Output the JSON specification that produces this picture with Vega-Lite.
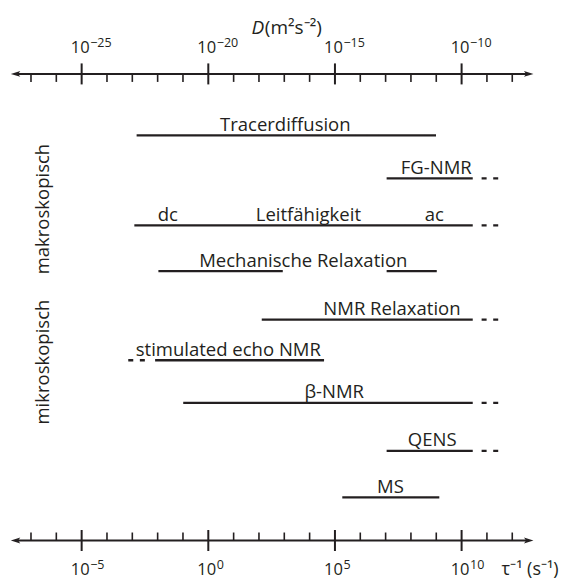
{
  "$schema": "https://vega.github.io/schema/vega-lite/v6.json",
  "width": 568,
  "height": 579,
  "padding": 0,
  "autosize": {"type": "fit", "contains": "padding"},
  "background": "white",
  "config": {"view": {"stroke": null}, "text": {"font": "Open Sans", "color": "#231f20"}},
  "datasets": {
    "segments": [
      {"method": "Tracerdiffusion", "x": -2.83, "x2": 8.99, "row": 1, "kind": "solid"},
      {"method": "FG-NMR", "x": 7.04, "x2": 10.44, "row": 1.95, "kind": "solid"},
      {"method": "FG-NMR", "x": 10.79, "x2": 11.45, "row": 1.95, "kind": "dashed"},
      {"method": "Leitfähigkeit", "x": -2.92, "x2": 10.44, "row": 2.99, "kind": "solid"},
      {"method": "Leitfähigkeit", "x": 10.79, "x2": 11.45, "row": 2.99, "kind": "dashed"},
      {"method": "Mechanische Relaxation", "x": -1.97, "x2": 2.94, "row": 4.0, "kind": "solid"},
      {"method": "Mechanische Relaxation", "x": 7.04, "x2": 9.02, "row": 4.0, "kind": "solid"},
      {"method": "NMR Relaxation", "x": 2.11, "x2": 10.44, "row": 5.07, "kind": "solid"},
      {"method": "NMR Relaxation", "x": 10.79, "x2": 11.45, "row": 5.07, "kind": "dashed"},
      {"method": "stimulated echo NMR", "x": -3.16, "x2": -2.5, "row": 5.97, "kind": "dashed"},
      {"method": "stimulated echo NMR", "x": -2.1, "x2": 4.57, "row": 5.97, "kind": "solid"},
      {"method": "β-NMR", "x": -0.99, "x2": 10.44, "row": 6.91, "kind": "solid"},
      {"method": "β-NMR", "x": 10.79, "x2": 11.45, "row": 6.91, "kind": "dashed"},
      {"method": "QENS", "x": 7.04, "x2": 10.44, "row": 7.97, "kind": "solid"},
      {"method": "QENS", "x": 10.79, "x2": 11.45, "row": 7.97, "kind": "dashed"},
      {"method": "MS", "x": 5.29, "x2": 9.12, "row": 9.0, "kind": "solid"}
    ],
    "labels": [
      {"text": "Tracerdiffusion", "x": 3.04, "row": 1},
      {"text": "FG-NMR", "x": 9.0, "row": 1.95},
      {"text": "dc", "x": -1.6, "row": 2.99},
      {"text": "Leitfähigkeit", "x": 3.95, "row": 2.99},
      {"text": "ac", "x": 8.92, "row": 2.99},
      {"text": "Mechanische Relaxation", "x": 3.75, "row": 4.0},
      {"text": "NMR Relaxation", "x": 7.25, "row": 5.07},
      {"text": "stimulated echo NMR", "x": 0.79, "row": 5.97},
      {"text": "β-NMR", "x": 4.97, "row": 6.91},
      {"text": "QENS", "x": 8.84, "row": 7.97},
      {"text": "MS", "x": 7.19, "row": 9.0}
    ],
    "groups": [
      {"text": "makroskopisch", "x": -6.53, "row": 2.63},
      {"text": "mikroskopisch", "x": -6.53, "row": 6.01}
    ],
    "axes": [
      {"axis": "top", "x": -7.6, "x2": 12.64, "row": -0.356},
      {"axis": "bottom", "x": -7.6, "x2": 12.64, "row": 9.952}
    ],
    "arrows": [
      {"axis": "top", "side": "left", "x": -7.61, "row": -0.356},
      {"axis": "top", "side": "right", "x": 12.65, "row": -0.356},
      {"axis": "bottom", "side": "left", "x": -7.61, "row": 9.952},
      {"axis": "bottom", "side": "right", "x": 12.65, "row": 9.952}
    ],
    "major": [
      {"axis": "top", "x": -5, "row": -0.356, "base": "10", "exp": "−25"},
      {"axis": "top", "x": 0, "row": -0.356, "base": "10", "exp": "−20"},
      {"axis": "top", "x": 5, "row": -0.356, "base": "10", "exp": "−15"},
      {"axis": "top", "x": 10, "row": -0.356, "base": "10", "exp": "−10"},
      {"axis": "bottom", "x": -5, "row": 9.952, "base": "10", "exp": "−5"},
      {"axis": "bottom", "x": 0, "row": 9.952, "base": "10", "exp": "0"},
      {"axis": "bottom", "x": 5, "row": 9.952, "base": "10", "exp": "5"},
      {"axis": "bottom", "x": 10, "row": 9.952, "base": "10", "exp": "10"}
    ],
    "minor": [
      {"axis": "top", "x": -7, "row": -0.356}, {"axis": "top", "x": -6, "row": -0.356},
      {"axis": "top", "x": -4, "row": -0.356}, {"axis": "top", "x": -3, "row": -0.356},
      {"axis": "top", "x": -2, "row": -0.356}, {"axis": "top", "x": -1, "row": -0.356},
      {"axis": "top", "x": 1, "row": -0.356}, {"axis": "top", "x": 2, "row": -0.356},
      {"axis": "top", "x": 3, "row": -0.356}, {"axis": "top", "x": 4, "row": -0.356},
      {"axis": "top", "x": 6, "row": -0.356}, {"axis": "top", "x": 7, "row": -0.356},
      {"axis": "top", "x": 8, "row": -0.356}, {"axis": "top", "x": 9, "row": -0.356},
      {"axis": "top", "x": 11, "row": -0.356}, {"axis": "top", "x": 12, "row": -0.356},
      {"axis": "bottom", "x": -7, "row": 9.952}, {"axis": "bottom", "x": -6, "row": 9.952},
      {"axis": "bottom", "x": -4, "row": 9.952}, {"axis": "bottom", "x": -3, "row": 9.952},
      {"axis": "bottom", "x": -2, "row": 9.952}, {"axis": "bottom", "x": -1, "row": 9.952},
      {"axis": "bottom", "x": 1, "row": 9.952}, {"axis": "bottom", "x": 2, "row": 9.952},
      {"axis": "bottom", "x": 3, "row": 9.952}, {"axis": "bottom", "x": 4, "row": 9.952},
      {"axis": "bottom", "x": 6, "row": 9.952}, {"axis": "bottom", "x": 7, "row": 9.952},
      {"axis": "bottom", "x": 8, "row": 9.952}, {"axis": "bottom", "x": 9, "row": 9.952},
      {"axis": "bottom", "x": 11, "row": 9.952}, {"axis": "bottom", "x": 12, "row": 9.952}
    ],
    "titles": [
      {"axis": "top", "part": "sym", "text": "D", "x": 1.71, "row": -0.356},
      {"axis": "top", "part": "unit", "text": "(m²s⁻²)", "x": 2.23, "row": -0.356},
      {"axis": "bottom", "part": "unit", "text": "τ⁻¹ (s⁻¹)", "x": 11.58, "row": 9.952}
    ]
  },
  "encoding": {
    "x": {"field": "x", "type": "quantitative", "scale": {"domain": [-8.2235, 14.2006], "nice": false, "zero": false}, "axis": null},
    "y": {"field": "row", "type": "quantitative", "scale": {"domain": [-1.989, 10.736], "nice": false, "zero": false, "reverse": true}, "axis": null}
  },
  "layer": [
    {
      "data": {"name": "axes"},
      "mark": {"type": "rule", "color": "#231f20", "strokeWidth": 2},
      "encoding": {"x2": {"field": "x2"}}
    },
    {
      "data": {"name": "arrows"},
      "mark": {"type": "point", "filled": true, "opacity": 1, "size": 90, "fill": "#231f20", "strokeWidth": 0},
      "encoding": {
        "shape": {"field": "side", "type": "nominal", "scale": {"domain": ["left", "right"], "range": ["M-1,0L1,-0.62L0.55,0L1,0.62Z", "M1,0L-1,-0.62L-0.55,0L-1,0.62Z"]}, "legend": null}
      }
    },
    {
      "data": {"name": "major"},
      "mark": {"type": "point", "shape": "M0,-1L0,1", "filled": false, "opacity": 1, "size": 441, "stroke": "#231f20", "strokeWidth": 2}
    },
    {
      "data": {"name": "minor"},
      "transform": [{"filter": "datum.axis === 'top'"}],
      "mark": {"type": "point", "shape": "M0,0L0,1", "filled": false, "opacity": 1, "size": 256, "stroke": "#231f20", "strokeWidth": 1.6}
    },
    {
      "data": {"name": "minor"},
      "transform": [{"filter": "datum.axis === 'bottom'"}],
      "mark": {"type": "point", "shape": "M0,-1L0,0", "filled": false, "opacity": 1, "size": 256, "stroke": "#231f20", "strokeWidth": 1.6}
    },
    {
      "data": {"name": "segments"},
      "mark": {"type": "rule", "color": "#231f20", "strokeWidth": 2.3},
      "encoding": {
        "x2": {"field": "x2"},
        "strokeDash": {"field": "kind", "type": "nominal", "scale": {"domain": ["solid", "dashed"], "range": [[1, 0], [5, 6.6]]}, "legend": null}
      }
    },
    {
      "data": {"name": "labels"},
      "mark": {"type": "text", "fontSize": 18.5, "align": "center", "baseline": "alphabetic", "dy": -4.5},
      "encoding": {"text": {"field": "text"}}
    },
    {
      "data": {"name": "groups"},
      "mark": {"type": "text", "fontSize": 18.5, "align": "center", "baseline": "middle", "angle": 270},
      "encoding": {"text": {"field": "text"}}
    },
    {
      "data": {"name": "major"},
      "transform": [{"filter": "datum.axis === 'top'"}],
      "mark": {"type": "text", "fontSize": 16.5, "align": "center", "baseline": "alphabetic", "dx": -1.5, "dy": -21},
      "encoding": {"text": {"field": "base"}}
    },
    {
      "data": {"name": "major"},
      "transform": [{"filter": "datum.axis === 'top'"}],
      "mark": {"type": "text", "fontSize": 12.5, "align": "left", "baseline": "alphabetic", "dx": 8.5, "dy": -26.5},
      "encoding": {"text": {"field": "exp"}}
    },
    {
      "data": {"name": "major"},
      "transform": [{"filter": "datum.axis === 'bottom'"}],
      "mark": {"type": "text", "fontSize": 16.5, "align": "center", "baseline": "alphabetic", "dx": -1.5, "dy": 34},
      "encoding": {"text": {"field": "base"}}
    },
    {
      "data": {"name": "major"},
      "transform": [{"filter": "datum.axis === 'bottom'"}],
      "mark": {"type": "text", "fontSize": 12.5, "align": "left", "baseline": "alphabetic", "dx": 8.5, "dy": 28.5},
      "encoding": {"text": {"field": "exp"}}
    },
    {
      "data": {"name": "titles"},
      "transform": [{"filter": "datum.axis === 'top' && datum.part === 'sym'"}],
      "mark": {"type": "text", "fontSize": 19, "fontStyle": "italic", "align": "left", "baseline": "alphabetic", "dy": -40},
      "encoding": {"text": {"field": "text"}}
    },
    {
      "data": {"name": "titles"},
      "transform": [{"filter": "datum.axis === 'top' && datum.part === 'unit'"}],
      "mark": {"type": "text", "fontSize": 19, "align": "left", "baseline": "alphabetic", "dy": -40},
      "encoding": {"text": {"field": "text"}}
    },
    {
      "data": {"name": "titles"},
      "transform": [{"filter": "datum.axis === 'bottom'"}],
      "mark": {"type": "text", "fontSize": 18, "align": "left", "baseline": "alphabetic", "dy": 34},
      "encoding": {"text": {"field": "text"}}
    }
  ]
}
